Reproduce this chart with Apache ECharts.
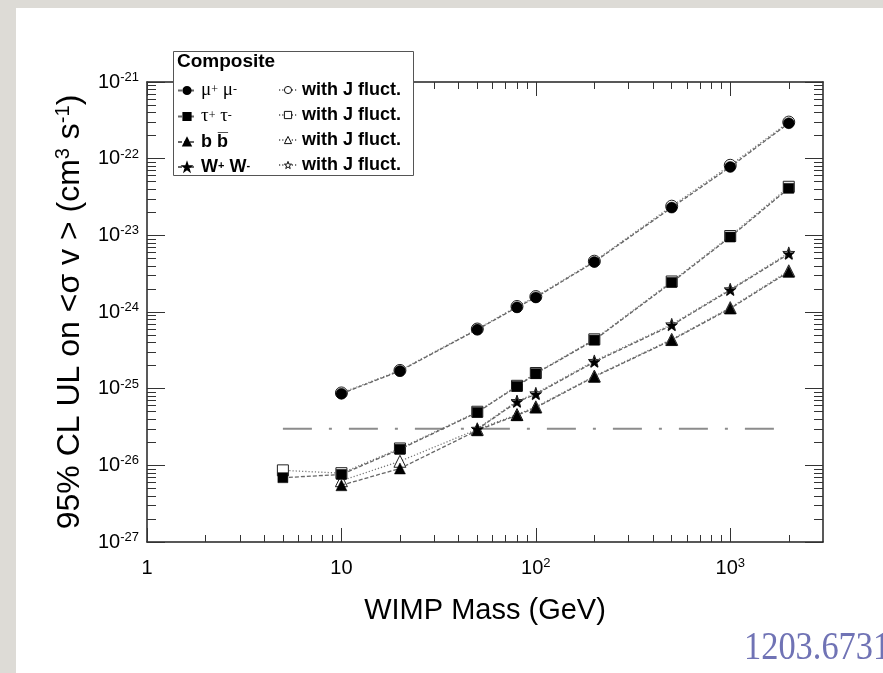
<!DOCTYPE html>
<html>
<head>
<meta charset="utf-8">
<script src="https://cdn.jsdelivr.net/npm/echarts@6/dist/echarts.min.js"></script>
<style>
html, body { margin: 0; padding: 0; background: #dddbd6; }
#panel { position: absolute; left: 16px; top: 8px; width: 867px; height: 665px; background: #fff; }
#chart { position: absolute; left: 0; top: 0; width: 883px; height: 673px; }
</style>
</head>
<body>
<div id="panel"></div>
<div id="chart"></div>
<script>
// WIMP masses (GeV)
const masses = [5, 10, 20, 50, 80, 100, 200, 500, 1000, 2000];

// 95% CL upper limits, null = no point
const muMu     = [null, 8.6e-26, 1.70e-25, 5.9e-25, 1.15e-24, 1.55e-24, 4.5e-24, 2.3e-23, 7.8e-23, 2.9e-22];
const muMuJ    = [null, 8.8e-26, 1.73e-25, 6.0e-25, 1.18e-24, 1.59e-24, 4.6e-24, 2.4e-23, 8.2e-23, 3.0e-22];
const tauTau   = [6.9e-27, 7.6e-27, 1.62e-26, 4.9e-26, 1.07e-25, 1.57e-25, 4.3e-25, 2.43e-24, 9.5e-24, 4.1e-23];
const tauTauJ  = [8.6e-27, 7.9e-27, 1.66e-26, 5.0e-26, 1.09e-25, 1.60e-25, 4.4e-25, 2.5e-24, 9.8e-24, 4.3e-23];
const bBar     = [null, 5.5e-27, 9.1e-27, 2.86e-26, 4.5e-26, 5.66e-26, 1.43e-25, 4.3e-25, 1.11e-24, 3.34e-24];
const bBarJ    = [null, 6.3e-27, 1.13e-26, 2.95e-26, 4.6e-26, 5.8e-26, 1.46e-25, 4.4e-25, 1.14e-24, 3.45e-24];
const wW       = [null, null, null, 2.95e-26, 6.7e-26, 8.45e-26, 2.23e-25, 6.7e-25, 1.93e-24, 5.7e-24];
const wWJ      = [null, null, null, 3.0e-26, 6.9e-26, 8.7e-26, 2.3e-25, 6.9e-25, 1.98e-24, 5.9e-24];

// thermal relic cross section line
const relicX = [5, 2000];
const relicY = [3e-26, 3e-26];

// axis ticks (y ticks given as powers of ten)
const xMajor = [1, 10, 100, 1000];
const yMajorExp = [-27, -26, -25, -24, -23, -22, -21];
const minorSteps = [2, 3, 4, 5, 6, 7, 8, 9];
const xMinor = [];
xMajor.forEach(d => minorSteps.forEach(s => { if (d * s < 3000) xMinor.push(d * s); }));
const yMinorExp = [];
yMajorExp.slice(0, -1).forEach(e => minorSteps.forEach(s => yMinorExp.push(e + Math.log10(s))));

const pairs = (ys) => masses.map((m, i) => [m, ys[i]]).filter(p => p[1] != null);
const pairsXY = (xs, ys) => xs.map((x, i) => [x, ys[i]]);

const STAR = 'path://M0,-10L2.35,-3.24L9.51,-3.09L3.8,1.24L5.88,8.09L0,4L-5.88,8.09L-3.8,1.24L-9.51,-3.09L-2.35,-3.24Z';
const SANS = '"Liberation Sans", Arial, sans-serif';
const SERIF = '"Liberation Serif", "Times New Roman", serif';

const legendLabels = {
  mumu: '{g|μ}{gs|+}{g| μ}{gs|-}',
  tautau: '{g|τ}{gs|+}{g| τ}{gs|-}',
  bb: '{bd|b b\u0305}',
  ww: '{bd|W}{bs|+}{bd| W}{bs|-}'
};
const legendRich = {
  g: { fontFamily: SERIF, fontSize: 19, lineHeight: 14, color: '#000' },
  gs: { fontFamily: SERIF, fontSize: 12, lineHeight: 14, verticalAlign: 'top', color: '#000' },
  bd: { fontFamily: SANS, fontWeight: 'bold', fontSize: 18, lineHeight: 14, color: '#000' },
  bs: { fontFamily: SANS, fontWeight: 'bold', fontSize: 11, lineHeight: 14, verticalAlign: 'top', color: '#000' }
};

const tickRich = {
  b: { fontFamily: SANS, fontSize: 20, lineHeight: 22, color: '#000' },
  s: { fontFamily: SANS, fontSize: 13, lineHeight: 22, verticalAlign: 'top', color: '#000' }
};
const xLabel = v => (v < 100 ? '{b|' + v + '}' : '{b|10}{s|' + Math.round(Math.log10(v)) + '}');
const yLabel = v => '{b|10}{s|' + Math.round(v) + '}';

const frame = { show: true, onZero: false, lineStyle: { color: '#222', width: 1.5 } };
const noLine = { show: false };
const tickStyle = { color: '#333', width: 1 };

function xAxisDef(position, ticks, len, line, labels) {
  return {
    type: 'log', logBase: 10, min: 1, max: 3000, position: position,
    axisLine: line ? frame : noLine,
    axisTick: { show: true, inside: true, length: len, customValues: ticks, lineStyle: tickStyle },
    axisLabel: labels ? { show: true, customValues: ticks, formatter: xLabel, rich: tickRich, margin: 15 } : { show: false },
    splitLine: { show: false }, minorTick: { show: false }
  };
}
function yAxisDef(position, ticks, len, line, labels) {
  return {
    type: 'value', min: -27, max: -21, position: position,
    axisLine: line ? frame : noLine,
    axisTick: { show: true, inside: true, length: len, customValues: ticks, lineStyle: tickStyle },
    axisLabel: labels ? { show: true, customValues: ticks, formatter: yLabel, rich: tickRich, margin: 8 } : { show: false },
    splitLine: { show: false }, minorTick: { show: false }
  };
}

const xAxes = [
  Object.assign(xAxisDef('bottom', xMajor, 14, true, true), {
    name: 'WIMP Mass (GeV)', nameLocation: 'middle', nameGap: 54,
    nameTextStyle: { fontFamily: SANS, fontSize: 29, color: '#000' }
  }),
  xAxisDef('bottom', xMinor, 7, false, false),
  xAxisDef('top', xMajor, 14, true, false),
  xAxisDef('top', xMinor, 7, false, false)
];
const yAxes = [
  // data axis (log scale), drawn by the overlays below
  {
    type: 'log', logBase: 10, min: 1e-27, max: 1e-21, position: 'left',
    axisLine: noLine, axisTick: { show: false }, axisLabel: { show: false },
    splitLine: { show: false }
  },
  Object.assign(yAxisDef('left', yMajorExp, 18, true, true), {
    name: '{t|95% CL UL on <σ v > (cm}{ts|3}{t| s}{ts|-1}{t|)}', nameLocation: 'middle', nameGap: 60, nameRotate: 90,
    nameTextStyle: { rich: {
      t: { fontFamily: SANS, fontSize: 32, lineHeight: 34, color: '#000' },
      ts: { fontFamily: SANS, fontSize: 20, lineHeight: 34, verticalAlign: 'top', color: '#000' }
    } }
  }),
  yAxisDef('left', yMinorExp, 9, false, false),
  yAxisDef('right', yMajorExp, 18, true, false),
  yAxisDef('right', yMinorExp, 9, false, false)
];

function filled(name, ys, symbol, size) {
  return {
    name: name, type: 'line', data: pairs(ys), symbol: symbol, symbolSize: size, z: 4,
    itemStyle: { color: '#000', borderColor: '#000', borderWidth: 0.5 },
    lineStyle: { color: '#666', width: 1.3, type: [4, 2] }, showSymbol: true, animation: false
  };
}
function open(name, ys, symbol, size) {
  return {
    name: name, type: 'line', data: pairs(ys), symbol: symbol, symbolSize: size, z: 3,
    itemStyle: { color: '#fff', borderColor: '#222', borderWidth: 1 },
    lineStyle: { color: '#777', width: 1.3, type: [1.2, 2] }, showSymbol: true, animation: false
  };
}

const series = [
  {
    name: 'relic', type: 'line', data: pairsXY(relicX, relicY), symbol: 'none', z: 1,
    lineStyle: { color: '#8c8c8c', width: 2, type: [29, 17, 3, 17] }, animation: false
  },
  open('mumuJ', muMuJ, 'circle', 12),
  open('tautauJ', tauTauJ, 'rect', 11),
  open('bbJ', bBarJ, 'triangle', 12),
  open('wwJ', wWJ, STAR, 12),
  filled('mumu', muMu, 'circle', 11),
  filled('tautau', tauTau, 'rect', 10),
  filled('bb', bBar, 'triangle', 11),
  filled('ww', wW, STAR, 11)
];

const openIcon = { color: '#fff', borderColor: '#111', borderWidth: 1 };
const legendBase = {
  orient: 'vertical', top: 81, itemWidth: 18, itemHeight: 9, itemGap: 7, z: 120,
  selectedMode: false, padding: 0, textStyle: { rich: legendRich, color: '#000' }
};

const chart = echarts.init(document.getElementById('chart'), null, { renderer: 'canvas' });
chart.setOption({
  backgroundColor: 'transparent',
  animation: false,
  grid: { left: 147, right: 60, top: 82, bottom: 131, outerBoundsMode: 'none' },
  xAxis: xAxes,
  yAxis: yAxes,
  legend: [
    Object.assign({}, legendBase, {
      left: 177, data: ['mumu', 'tautau', 'bb', 'ww'],
      formatter: name => legendLabels[name]
    }),
    Object.assign({}, legendBase, {
      left: 278,
      data: ['mumuJ', 'tautauJ', 'bbJ', 'wwJ'].map(n => ({ name: n, itemStyle: openIcon })),
      formatter: () => '{bd|with J fluct.}'
    })
  ],
  graphic: [
    {
      type: 'rect', left: 173, top: 51, z: 100,
      shape: { width: 240, height: 124 },
      style: { fill: '#fff', stroke: '#555', lineWidth: 1 }
    },
    {
      type: 'text', left: 177, top: 52, z: 120,
      style: { text: 'Composite', font: 'bold 19px "Liberation Sans", Arial, sans-serif', fill: '#000' }
    },
    {
      type: 'text', x: 744, y: 628, scaleX: 0.86, z: 10,
      style: { text: '1203.6731', font: '40px "Liberation Serif", serif', fill: '#7073b5' }
    }
  ],
  series: series
});
</script>
</body>
</html>
